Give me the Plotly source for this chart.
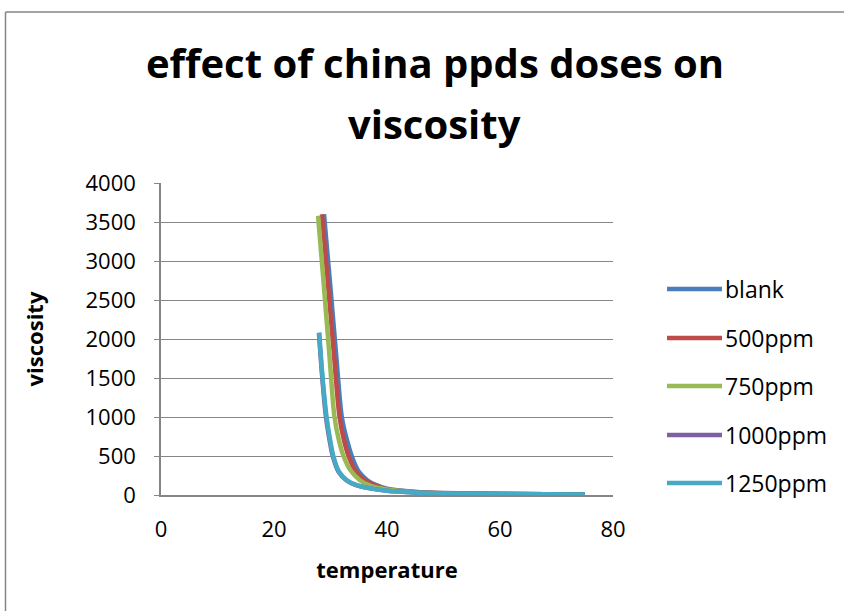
import plotly.graph_objects as go

names = ["blank", "500ppm", "750ppm", "1000ppm", "1250ppm"]
colors = ["#4A7EBB", "#BE4B48", "#98B954", "#7D60A0", "#46AAC5"]

temp_blank = [28.85, 30, 31, 32, 33, 34, 35, 36.5, 38, 40, 45, 50, 60, 75]
visc_blank = [3600, 2650, 1800, 1000, 680, 450, 300, 190, 130, 80, 40, 25, 15, 8]

temp_500 = [28.5, 29.5, 30.5, 31.6, 32.4, 33.2, 34.5, 36, 38, 40, 45, 50, 60, 75]
visc_500 = [3600, 2750, 1900, 1000, 700, 500, 300, 190, 120, 75, 38, 24, 14, 8]

temp_750 = [27.8, 28.8, 29.8, 30.7, 31.5, 32.3, 33.5, 35.2, 37, 40, 45, 50, 60, 75]
visc_750 = [3580, 2700, 1800, 1000, 700, 500, 320, 190, 120, 70, 36, 22, 13, 8]

temp_1000 = [27.95, 28.55, 29.2, 29.8, 30.4, 31.4, 32.8, 34.4, 37, 40, 45, 50, 60, 75]
visc_1000 = [2080, 1500, 1000, 720, 500, 300, 190, 130, 85, 55, 32, 20, 12, 8]

temp_1250 = [28.0, 28.6, 29.3, 29.9, 30.5, 31.5, 32.9, 34.5, 37, 40, 45, 50, 60, 75]
visc_1250 = [2080, 1500, 1000, 720, 500, 300, 190, 130, 85, 55, 32, 20, 12, 8]

temps = [temp_blank, temp_500, temp_750, temp_1000, temp_1250]
viscs = [visc_blank, visc_500, visc_750, visc_1000, visc_1250]

x_ticks = [0, 20, 40, 60, 80]
y_ticks = [0, 500, 1000, 1500, 2000, 2500, 3000, 3500, 4000]

title_line1 = "effect of china ppds doses on"
title_line2 = "viscosity"

FONT = "Open Sans"
W, H = 844, 611
L, R, T, B = 161, 231, 183, 116
pw, ph = W - L - R, H - T - B

def px(xpix):
    return (xpix - L) / pw

def py(ypix):
    return (H - B - ypix) / ph

fig = go.Figure()
for n, c, t, v in zip(names, colors, temps, viscs):
    fig.add_trace(go.Scatter(x=t, y=v, name=n, mode="lines",
                             line=dict(color=c, width=4.5, shape="spline", smoothing=0.8),
                             showlegend=False))

border = dict(color="#868686", width=1.5)
shapes = [
    dict(type="line", xref="paper", yref="paper", x0=px(5.5), x1=px(5.5), y0=py(12), y1=py(H), line=border),
    dict(type="line", xref="paper", yref="paper", x0=px(5.5), x1=px(W), y0=py(12), y1=py(12), line=border),
]
annotations = [dict(xref="paper", yref="paper", x=px(434), y=py(123), xanchor="center",
                    yanchor="middle", text="<b>" + title_line2 + "</b>", showarrow=False,
                    font=dict(family=FONT, size=40, color="black"))]
leg_y = [289, 338, 386, 435, 483]
for n, c, yy in zip(names, colors, leg_y):
    shapes.append(dict(type="line", xref="paper", yref="paper",
                       x0=px(667), x1=px(722), y0=py(yy), y1=py(yy),
                       line=dict(color=c, width=4.5)))
    annotations.append(dict(xref="paper", yref="paper", x=px(723), y=py(yy),
                            xanchor="left", yanchor="middle", text=n, showarrow=False,
                            font=dict(family=FONT, size=23, color="black")))

fig.update_layout(
    width=W, height=H,
    margin=dict(l=L, r=R, t=T, b=B),
    paper_bgcolor="white", plot_bgcolor="white",
    title=dict(text="<b>" + title_line1 + "</b>",
               xref="container", x=435 / W, xanchor="center",
               yref="container", y=1 - 64 / H, yanchor="middle",
               font=dict(family=FONT, size=40, color="black")),
    shapes=shapes, annotations=annotations,
    xaxis=dict(range=[0, 80], tickvals=x_ticks, showgrid=False, zeroline=False,
               showline=True, linecolor="#868686", linewidth=1.5, ticks="",
               ticklabelstandoff=14,
               tickfont=dict(family=FONT, size=22, color="black"),
               title=dict(text="<b>temperature</b>", font=dict(family=FONT, size=22, color="black"),
                          standoff=20)),
    yaxis=dict(range=[0, 4000], tickvals=y_ticks, showgrid=True, gridcolor="#868686",
               gridwidth=1.3, zeroline=False, showline=True, linecolor="#868686",
               linewidth=1.5, ticks="outside", ticklen=5, tickcolor="#868686",
               ticklabelstandoff=14,
               tickfont=dict(family=FONT, size=22, color="black"),
               title=dict(text="<b>viscosity</b>", font=dict(family=FONT, size=22, color="black"),
                          standoff=36)),
)
fig.write_html("out.html")
